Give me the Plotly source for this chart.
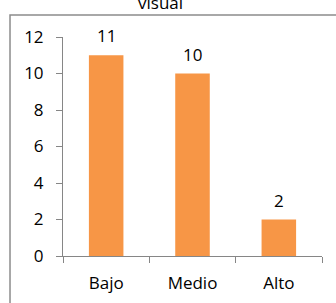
import plotly.graph_objects as go

categories = ["Bajo", "Medio", "Alto"]
values = [11, 10, 2]
y_ticks = [0, 2, 4, 6, 8, 10, 12]
title_text = "visual"

bar_color = "#F79646"
axis_color = "#868686"
font_family = "Open Sans, Liberation Sans, sans-serif"

fig = go.Figure()
fig.add_trace(go.Bar(
    x=categories, y=values, marker=dict(color=bar_color, line=dict(width=0)),
    width=0.4, showlegend=False, hoverinfo="skip",
))

for c, v in zip(categories, values):
    fig.add_annotation(x=c, y=v, text=str(v), showarrow=False,
                       yanchor="bottom", yshift=6,
                       font=dict(size=17, color="#000000", family=font_family))

fig.add_annotation(xref="paper", yref="paper", x=0.375, y=1.094, text=title_text,
                   showarrow=False, yanchor="bottom", xanchor="center",
                   font=dict(size=17, color="#000000", family=font_family))

fig.add_shape(type="rect", xref="paper", yref="paper",
              x0=-0.2046, x1=1.3, y0=-0.4, y1=1.1005,
              line=dict(color="#8C8C8C", width=1.5), fillcolor="rgba(0,0,0,0)")

fig.update_layout(
    width=336, height=303,
    margin=dict(l=63, r=14, t=37, b=47),
    paper_bgcolor="white", plot_bgcolor="white",
    bargap=0.6, hovermode=False,
    font=dict(family=font_family, size=17, color="#000000"),
    xaxis=dict(showline=True, linecolor=axis_color, linewidth=1,
               ticks="outside", ticklen=6, tickcolor=axis_color,
               tickson="boundaries", showgrid=False, zeroline=False,
               tickfont=dict(size=17), ticklabelstandoff=12, automargin=False),
    yaxis=dict(range=[0, 12], tickvals=y_ticks, showline=True,
               linecolor=axis_color, linewidth=1, ticks="outside", ticklen=6,
               tickcolor=axis_color, showgrid=False, zeroline=False,
               tickfont=dict(size=17), ticklabelstandoff=9, automargin=False),
)

fig.write_html("out.html", config={"displayModeBar": False, "staticPlot": True},
               post_script="document.body.style.margin='0';document.body.style.overflow='hidden';")
